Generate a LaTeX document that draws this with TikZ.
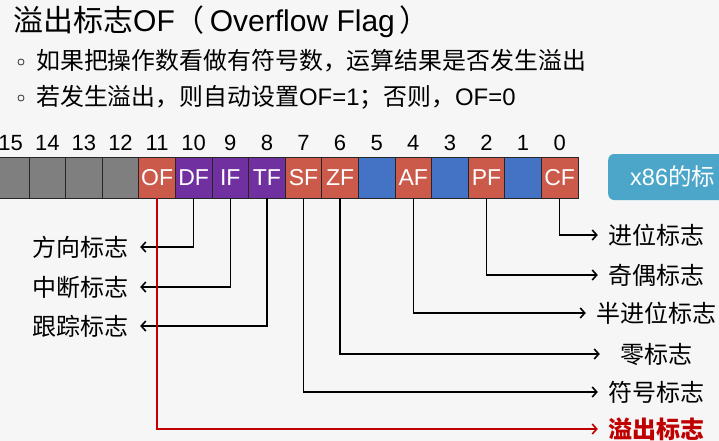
\documentclass[tikz,border=0pt]{standalone}
\usepackage{fontspec}
\setmainfont{Liberation Sans}
\newfontfamily\cjk{Noto Sans CJK SC}
\usepackage{tikz}
\usetikzlibrary{arrows.meta,positioning}
\definecolor{hgrund}{HTML}{F6F6F6}
\definecolor{grau}{HTML}{7F7F7F}
\definecolor{rot}{HTML}{CB5A4A}
\definecolor{lila}{HTML}{7030A0}
\definecolor{blau}{HTML}{4472C4}
\definecolor{tuerkis}{HTML}{4BA6C9}
\definecolor{ofrot}{HTML}{C00000}
\tikzset{
  bit/.style={draw=black!85, line width=0.8pt, minimum width=36.6pt, minimum height=41pt,
    inner sep=0pt, text=white, font=\fontsize{23}{23}\selectfont},
  bitnum/.style={inner sep=0pt, font=\fontsize{22}{22}\selectfont},
  flagL/.style={minimum width=119pt, inner sep=0pt, font=\cjk\fontsize{24}{24}\selectfont},
  flagR/.style={minimum width=112pt, inner xsep=10pt, inner ysep=0pt, font=\cjk\fontsize{24}{24}\selectfont},
  zeiger/.style={line width=1.4pt, -{Straight Barb[length=4.5pt,width=10pt,line width=1.6pt]}},
}
\begin{document}
\begin{tikzpicture}[x=1pt,y=-1pt]
\useasboundingbox (0,0) rectangle (719,441);
\clip (0,0) rectangle (719,441);
\fill[hgrund] (0,0) rectangle (719,441);
%Ueberschrift und Punkte
\node[anchor=west, inner sep=0pt] (titel) at (13,22)
  {\fontsize{30}{30}\selectfont{\cjk 溢出标志}OF{\cjk （}\,Overflow Flag\,{\cjk ）}};
\node[circle, draw=black!80, line width=0.8pt, minimum size=6pt, inner sep=0pt] (p1) at (21,62) {};
\node[circle, draw=black!80, line width=0.8pt, minimum size=6pt, inner sep=0pt] (p2) at (21,98) {};
\node[anchor=west, inner sep=0pt] (z1) at (36,61)
  {\fontsize{23.9}{24}\selectfont\cjk 如果把操作数看做有符号数，运算结果是否发生溢出};
\node[anchor=west, inner sep=0pt] (z2) at (36,97)
  {\fontsize{23.9}{24}\selectfont{\cjk 若发生溢出，则自动设置}OF=1{\cjk ；否则，}OF=0};
%Register: Zelle i liegt bei 578-36.6*(i+0.5)
\foreach \i/\name/\farbe in {15//grau,14//grau,13//grau,12//grau,11/OF/rot,10/DF/lila,9/IF/lila,8/TF/lila,
                             7/SF/rot,6/ZF/rot,5//blau,4/AF/rot,3//blau,2/PF/rot,1//blau,0/CF/rot}{
  \pgfmathsetmacro{\xc}{578-36.6*(\i+0.5)}
  \node[bit, fill=\farbe] (c\i) at (\xc,177.5) {\name};
  \node[bitnum] (n\i) at (\xc,143) {\i};
}
\node[anchor=west, fill=tuerkis, rounded corners=6pt, minimum height=46pt, inner xsep=22pt,
  text=white, font=\fontsize{23.5}{24}\selectfont] (reg) at (608,177) {x86{\cjk 的标}};
%Beschriftungen
\node[flagL] (fDF) at (80.5,247) {方向标志};
\node[flagL] (fIF) at (80.5,287) {中断标志};
\node[flagL] (fTF) at (80.5,326) {跟踪标志};
\node[flagR] (fCF) at (656,235) {进位标志};
\node[flagR] (fPF) at (656,275) {奇偶标志};
\node[flagR] (fAF) at (656,313) {半进位标志};
\node[flagR] (fZF) at (656,354) {零标志};
\node[flagR] (fSF) at (656,392) {符号标志};
\node[flagR, text=ofrot, font=\cjk\bfseries\fontsize{24}{24}\selectfont] (fOF) at (656,429) {溢出标志};
\draw[zeiger] (c10.south) |- (fDF.east);
\draw[zeiger] (c9.south) |- (fIF.east);
\draw[zeiger] (c8.south) |- (fTF.east);
\draw[zeiger] (c0.south) |- (fCF.west);
\draw[zeiger] (c2.south) |- (fPF.west);
\draw[zeiger] (c4.south) |- (fAF.west);
\draw[zeiger] (c6.south) |- (fZF.west);
\draw[zeiger] (c7.south) |- (fSF.west);
\draw[zeiger, draw=ofrot] (c11.south) |- (fOF.west);
\end{tikzpicture}
\end{document}
